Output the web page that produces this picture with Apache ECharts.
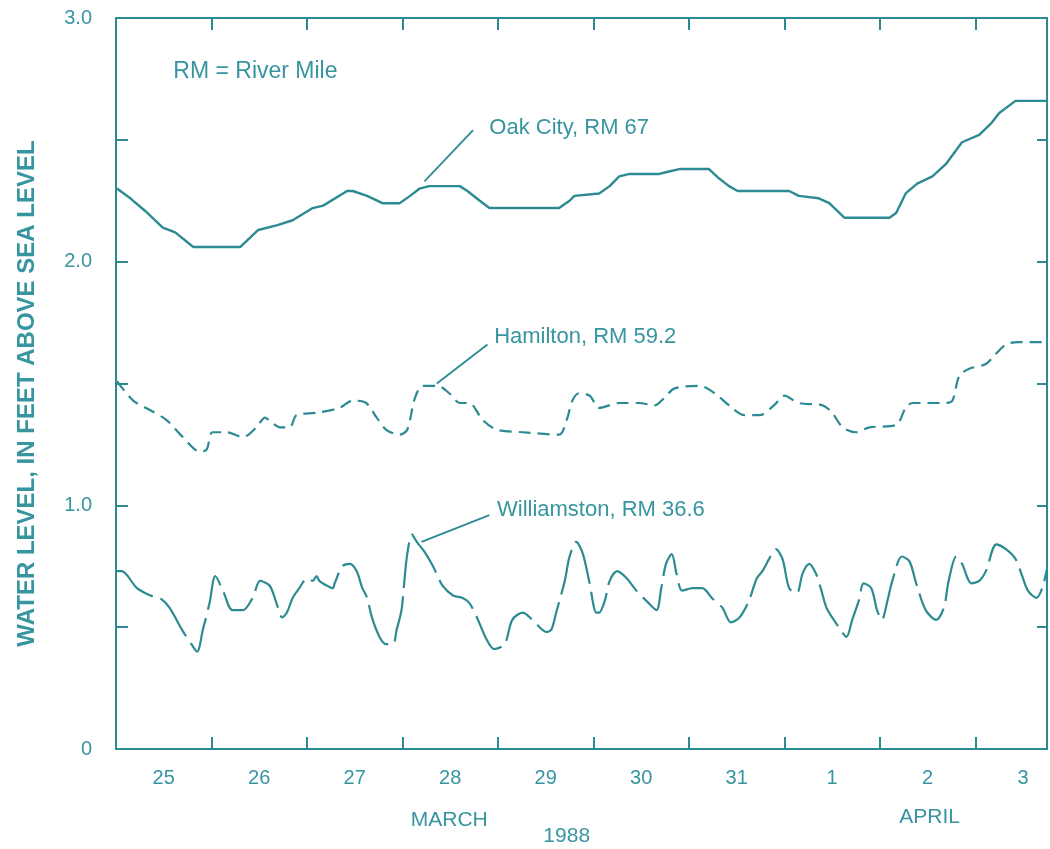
<!DOCTYPE html>
<html>
<head>
<meta charset="utf-8">
<script src="https://cdn.jsdelivr.net/npm/echarts@6/dist/echarts.min.js"></script>
<style>
html,body{margin:0;padding:0;background:#fff;}
#chart{width:1050px;height:849px;}
</style>
</head>
<body>
<div id="chart"></div>
<script>
// time in days since 25 March 1988 00:00, water level in feet above sea level
const dayLabels = ['25','26','27','28','29','30','31','1','2','3'];
const yTickLabels = {0:'0', 1:'1.0', 2:'2.0', 3:'3.0'};

const oakCity = [
[0.01,2.30],[0.15,2.26],[0.30,2.21],[0.49,2.14],[0.62,2.12],[0.81,2.06],[1.12,2.06],[1.30,2.06],
[1.49,2.13],[1.69,2.15],[1.85,2.17],[2.06,2.22],[2.17,2.23],[2.42,2.29],[2.48,2.29],[2.63,2.27],
[2.79,2.24],[2.97,2.24],[3.08,2.27],[3.18,2.30],[3.28,2.31],[3.60,2.31],[3.68,2.29],[3.81,2.25],
[3.91,2.22],[4.33,2.22],[4.64,2.22],[4.75,2.25],[4.80,2.27],[5.06,2.28],[5.17,2.31],[5.27,2.35],
[5.38,2.36],[5.69,2.36],[5.79,2.37],[5.90,2.38],[6.21,2.38],[6.32,2.34],[6.42,2.31],[6.51,2.29],
[7.05,2.29],[7.15,2.27],[7.36,2.26],[7.47,2.24],[7.63,2.18],[8.10,2.18],[8.17,2.20],[8.27,2.28],
[8.39,2.32],[8.55,2.35],[8.69,2.40],[8.86,2.49],[9.04,2.52],[9.17,2.57],[9.25,2.61],[9.42,2.66],
[9.75,2.66]
];

const hamilton = [
[0.01,1.51],[0.18,1.43],[0.36,1.39],[0.53,1.35],[0.70,1.28],[0.88,1.22],[0.95,1.23],[1.01,1.30],
[1.16,1.30],[1.33,1.28],[1.47,1.32],[1.56,1.36],[1.63,1.34],[1.72,1.32],[1.82,1.32],[1.89,1.37],
[2.10,1.38],[2.34,1.40],[2.48,1.43],[2.62,1.42],[2.73,1.36],[2.83,1.31],[2.97,1.29],[3.05,1.31],
[3.13,1.44],[3.21,1.49],[3.37,1.49],[3.49,1.46],[3.60,1.42],[3.70,1.42],[3.84,1.35],[3.99,1.31],
[4.26,1.30],[4.64,1.29],[4.72,1.35],[4.78,1.43],[4.85,1.46],[4.96,1.45],[5.06,1.40],[5.27,1.42],
[5.48,1.42],[5.64,1.41],[5.74,1.44],[5.85,1.48],[6.11,1.49],[6.27,1.46],[6.42,1.41],[6.58,1.37],
[6.74,1.37],[6.89,1.41],[7.00,1.45],[7.15,1.42],[7.40,1.41],[7.50,1.38],[7.61,1.32],[7.75,1.30],
[7.89,1.32],[8.17,1.33],[8.27,1.40],[8.34,1.42],[8.69,1.42],[8.76,1.43],[8.83,1.53],[8.93,1.56],
[9.11,1.58],[9.21,1.62],[9.32,1.66],[9.45,1.67],[9.75,1.67]
];

const williamston = [
[0.01,0.73],[0.06,0.73],[0.22,0.66],[0.36,0.63],[0.46,0.62],[0.56,0.58],[0.69,0.49],[0.79,0.43],
[0.85,0.40],[0.91,0.49],[0.98,0.60],[1.04,0.71],[1.12,0.65],[1.22,0.57],[1.33,0.57],[1.43,0.62],
[1.51,0.69],[1.61,0.67],[1.68,0.60],[1.74,0.54],[1.79,0.56],[1.85,0.62],[1.92,0.66],[2.00,0.70],
[2.06,0.69],[2.10,0.71],[2.13,0.69],[2.21,0.67],[2.27,0.66],[2.29,0.68],[2.37,0.75],[2.45,0.76],
[2.52,0.73],[2.58,0.66],[2.63,0.62],[2.68,0.54],[2.76,0.46],[2.83,0.43],[2.90,0.43],[2.94,0.49],
[2.99,0.57],[3.02,0.69],[3.05,0.80],[3.10,0.88],[3.15,0.85],[3.23,0.81],[3.32,0.75],[3.42,0.67],
[3.53,0.63],[3.63,0.62],[3.70,0.60],[3.78,0.54],[3.88,0.45],[3.96,0.41],[4.07,0.43],[4.15,0.53],
[4.26,0.56],[4.36,0.53],[4.51,0.48],[4.56,0.49],[4.61,0.56],[4.70,0.69],[4.75,0.79],[4.82,0.85],
[4.89,0.80],[4.96,0.68],[5.03,0.56],[5.06,0.56],[5.12,0.61],[5.17,0.69],[5.25,0.73],[5.35,0.70],
[5.45,0.65],[5.55,0.61],[5.66,0.57],[5.71,0.66],[5.76,0.76],[5.82,0.80],[5.87,0.72],[5.93,0.65],
[6.04,0.66],[6.14,0.66],[6.18,0.65],[6.24,0.62],[6.35,0.58],[6.44,0.52],[6.53,0.54],[6.63,0.61],
[6.71,0.70],[6.77,0.73],[6.84,0.78],[6.91,0.82],[6.98,0.78],[7.05,0.66],[7.13,0.64],[7.19,0.72],
[7.26,0.76],[7.33,0.72],[7.38,0.66],[7.44,0.58],[7.50,0.54],[7.57,0.50],[7.65,0.46],[7.71,0.53],
[7.78,0.61],[7.83,0.68],[7.91,0.66],[7.97,0.57],[8.02,0.53],[8.08,0.61],[8.13,0.69],[8.23,0.79],
[8.31,0.77],[8.38,0.68],[8.48,0.57],[8.59,0.53],[8.67,0.58],[8.72,0.69],[8.80,0.79],[8.86,0.76],
[8.96,0.68],[9.04,0.69],[9.11,0.73],[9.22,0.84],[9.32,0.82],[9.42,0.78],[9.49,0.71],[9.55,0.65],
[9.64,0.62],[9.70,0.66],[9.75,0.74]
];

// annotation anchors in data coordinates (days, feet)
const annotations = [
  {text:'Oak City, RM 67',       from:[3.74,2.54], to:[3.23,2.33], at:[3.91,2.55]},
  {text:'Hamilton, RM 59.2',     from:[3.89,1.66], to:[3.36,1.50], at:[3.96,1.69]},
  {text:'Williamston, RM 36.6',  from:[3.91,0.96], to:[3.20,0.85], at:[3.99,0.98]}
];
const noteText = {text:'RM = River Mile', at:[0.60,2.78]};
const monthLabels = [
  {text:'MARCH', at:3.49, dy:71},
  {text:'1988',  at:4.72, dy:87},
  {text:'APRIL', at:8.52, dy:68}
];

const LINE = '#2c8b92';
const TEXT = '#3795a0';
const FONT = '"Liberation Sans", Arial, Helvetica, sans-serif';
const XMAX = 9.75;

const chart = echarts.init(document.getElementById('chart'), null, {renderer:'canvas'});

const axisLine = {show:true, onZero:false, lineStyle:{color:LINE, width:2}};
const tick = function(len){ return {show:true, inside:true, length:len, lineStyle:{color:LINE, width:2}}; };
const option = {
  backgroundColor:'#ffffff',
  animation:false,
  grid:{left:116, top:18, right:2, height:731},
  xAxis:[
    {type:'value', min:0, max:XMAX, interval:1, position:'bottom',
     axisLine:axisLine, axisTick:tick(12), axisLabel:{show:false}, splitLine:{show:false}},
    {type:'value', min:0, max:XMAX, interval:0.5, position:'bottom',
     axisLine:{show:false, onZero:false}, axisTick:{show:false}, splitLine:{show:false},
     axisLabel:{show:true, margin:19, color:TEXT, fontFamily:FONT, fontSize:20,
       formatter:function(v){const f=Math.round((v%1)*100)/100; if(f===0.5){const i=Math.floor(v); return dayLabels[i]||'';} return '';}}},
    {type:'value', min:0, max:XMAX, interval:1, position:'top',
     axisLine:axisLine, axisTick:tick(12), axisLabel:{show:false}, splitLine:{show:false}}
  ],
  yAxis:[
    {type:'value', min:0, max:3, interval:0.5, position:'left',
     name:'WATER LEVEL, IN FEET ABOVE SEA LEVEL', nameLocation:'middle', nameGap:77, nameRotate:90,
     nameTextStyle:{color:TEXT, fontFamily:FONT, fontSize:24, fontWeight:'bold', padding:[0,20,0,0]},
     axisLine:axisLine, axisTick:tick(12),
     axisLabel:{show:true, margin:24, color:TEXT, fontFamily:FONT, fontSize:20,
       formatter:function(v){const k=Math.round(v*10)/10; return (k in yTickLabels)?yTickLabels[k]:'';}},
     splitLine:{show:false}},
    {type:'value', min:0, max:3, interval:0.5, position:'right',
     axisLine:axisLine, axisTick:tick(10), axisLabel:{show:false}, splitLine:{show:false}}
  ],
  series:[
    {name:'Oak City, RM 67', type:'line', data:oakCity, showSymbol:false, smooth:false,
     lineStyle:{color:LINE, width:2.4}, xAxisIndex:0, yAxisIndex:0},
    {name:'Hamilton, RM 59.2', type:'line', data:hamilton, showSymbol:false, smooth:0.3,
     lineStyle:{color:LINE, width:2.2, type:[12,7]}, xAxisIndex:0, yAxisIndex:0},
    {name:'Williamston, RM 36.6', type:'line', data:williamston, showSymbol:false, smooth:0.3,
     lineStyle:{color:LINE, width:2.2, type:[46,8]}, xAxisIndex:0, yAxisIndex:0}
  ]
};
chart.setOption(option);

function px(p){ return chart.convertToPixel({xAxisIndex:0, yAxisIndex:0}, p); }
const g = [];
annotations.forEach(function(a){
  const f = px(a.from), t = px(a.to), s = px(a.at);
  g.push({type:'line', shape:{x1:f[0], y1:f[1], x2:t[0], y2:t[1]}, style:{stroke:LINE, lineWidth:1.8}});
  g.push({type:'text', x:s[0], y:s[1], style:{text:a.text, fill:TEXT, font:'22px ' + FONT, verticalAlign:'middle', align:'left'}});
});
const n = px(noteText.at);
g.push({type:'text', x:n[0], y:n[1], style:{text:noteText.text, fill:TEXT, font:'23px ' + FONT, verticalAlign:'middle', align:'left'}});
const yM = px([0,0])[1];
monthLabels.forEach(function(m){
  const x = px([m.at, 0])[0];
  g.push({type:'text', x:x, y: yM + m.dy, style:{text:m.text, fill:TEXT, font:'21px ' + FONT, verticalAlign:'middle', align:'center'}});
});
chart.setOption({graphic:g});
</script>
</body>
</html>
